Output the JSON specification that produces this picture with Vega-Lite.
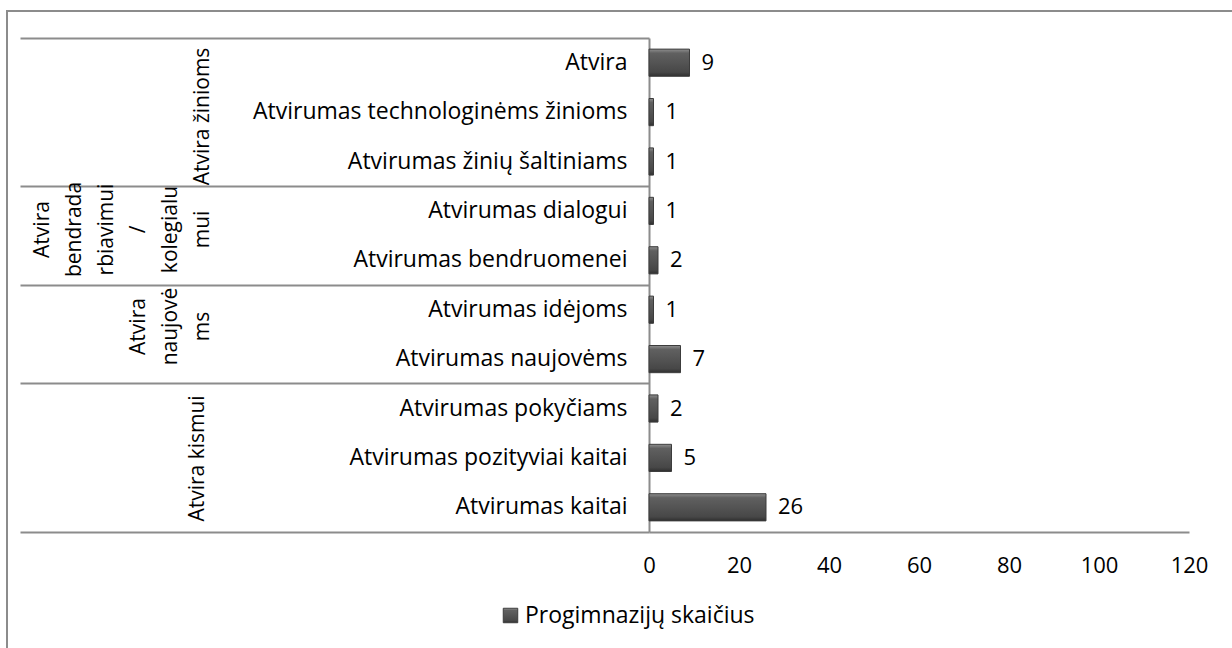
{
  "$schema": "https://vega.github.io/schema/vega-lite/v6.json",
  "width": 1228,
  "height": 640,
  "autosize": {"type": "none"},
  "padding": {"left": 7, "top": 11, "right": -3, "bottom": -3},
  "background": "white",
  "view": {"stroke": "#8c8c8c", "strokeWidth": 2},
  "config": {"font": "Open Sans"},
  "data": {
    "values": [
      {"group": "Atvira žinioms", "category": "Atvira", "value": 9},
      {"group": "Atvira žinioms", "category": "Atvirumas technologinėms žinioms", "value": 1},
      {"group": "Atvira žinioms", "category": "Atvirumas žinių šaltiniams", "value": 1},
      {"group": "Atvira bendradarbiavimui / kolegialumui", "category": "Atvirumas dialogui", "value": 1},
      {"group": "Atvira bendradarbiavimui / kolegialumui", "category": "Atvirumas bendruomenei", "value": 2},
      {"group": "Atvira naujovėms", "category": "Atvirumas idėjoms", "value": 1},
      {"group": "Atvira naujovėms", "category": "Atvirumas naujovėms", "value": 7},
      {"group": "Atvira kismui", "category": "Atvirumas pokyčiams", "value": 2},
      {"group": "Atvira kismui", "category": "Atvirumas pozityviai kaitai", "value": 5},
      {"group": "Atvira kismui", "category": "Atvirumas kaitai", "value": 26}
    ]
  },
  "encoding": {
    "x": {
      "field": "value",
      "type": "quantitative",
      "scale": {"domain": [0, 120], "range": [642, 1182], "nice": false},
      "axis": {
        "orient": "bottom",
        "offset": -119,
        "values": [0, 20, 40, 60, 80, 100, 120],
        "ticks": false,
        "grid": false,
        "domainColor": "#8c8c8c",
        "domainWidth": 2,
        "labelFont": "Open Sans",
        "labelFontSize": 22,
        "labelPadding": 23,
        "labelColor": "#000000",
        "labelFlush": false,
        "title": null
      }
    }
  },
  "resolve": {"scale": {"x": "shared", "y": "shared"}, "axis": {"y": "independent"}},
  "layer": [
    {
      "transform": [{"filter": {"field": "group", "equal": "Atvira žinioms"}}],
      "mark": {"type": "bar", "height": {"band": 0.55}, "strokeWidth": 1, "fill": {"gradient": "linear", "x1": 0, "y1": 0, "x2": 0, "y2": 1, "stops": [{"offset": 0, "color": "#8f8f8f"}, {"offset": 0.15, "color": "#606060"}, {"offset": 0.5, "color": "#545454"}, {"offset": 0.85, "color": "#474747"}, {"offset": 1, "color": "#2f2f2f"}]}},
      "encoding": {
        "y": {
          "field": "category", "type": "nominal", "sort": null,
          "scale": {"domain": ["Atvira", "Atvirumas technologinėms žinioms", "Atvirumas žinių šaltiniams", "Atvirumas dialogui", "Atvirumas bendruomenei", "Atvirumas idėjoms", "Atvirumas naujovėms", "Atvirumas pokyčiams", "Atvirumas pozityviai kaitai", "Atvirumas kaitai"], "range": [27, 521], "paddingInner": 0, "paddingOuter": 0},
          "axis": {"orient": "left", "offset": -642, "labels": false, "domain": false, "ticks": true, "values": ["Atvira"], "bandPosition": 0, "tickSize": 629, "tickColor": "#8c8c8c", "tickWidth": 2, "grid": false,
            "title": "Atvira žinioms", "titleX": -437, "titleY": 105, "titleAngle": 270, "titleAlign": "center", "titleBaseline": "bottom", "titleFont": "Open Sans", "titleFontSize": 21, "titleFontWeight": "normal", "titleLineHeight": 32, "titleColor": "#000000"}
        },
        "stroke": {
          "datum": "Progimnazijų skaičius", "type": "nominal",
          "scale": {"range": ["#3c3c3c"]},
          "legend": {"orient": "none", "legendX": 492, "legendY": 593, "title": null, "symbolType": "square", "symbolSize": 210, "symbolStrokeWidth": 1, "symbolFillColor": "#555555", "labelFont": "Open Sans", "labelFontSize": 23, "labelColor": "#000000", "labelOffset": 3, "labelLimit": 0, "padding": 0}
        }
      }
    },
    {
      "transform": [{"filter": {"field": "group", "equal": "Atvira bendradarbiavimui / kolegialumui"}}],
      "mark": {"type": "bar", "height": {"band": 0.55}, "strokeWidth": 1, "fill": {"gradient": "linear", "x1": 0, "y1": 0, "x2": 0, "y2": 1, "stops": [{"offset": 0, "color": "#8f8f8f"}, {"offset": 0.15, "color": "#606060"}, {"offset": 0.5, "color": "#545454"}, {"offset": 0.85, "color": "#474747"}, {"offset": 1, "color": "#2f2f2f"}]}},
      "encoding": {
        "y": {
          "field": "category", "type": "nominal", "sort": null,
          "axis": {"orient": "left", "offset": -642, "labels": false, "domain": false, "ticks": true, "values": ["Atvirumas dialogui"], "bandPosition": 0, "tickSize": 629, "tickColor": "#8c8c8c", "tickWidth": 2, "grid": false,
            "title": ["Atvira", "bendrada", "rbiavimui", "/", "kolegialu", "mui"], "titleX": -597, "titleY": 218, "titleAngle": 270, "titleAlign": "center", "titleBaseline": "bottom", "titleFont": "Open Sans", "titleFontSize": 21, "titleFontWeight": "normal", "titleLineHeight": 32, "titleColor": "#000000"}
        },
        "stroke": {"datum": "Progimnazijų skaičius", "type": "nominal"}
      }
    },
    {
      "transform": [{"filter": {"field": "group", "equal": "Atvira naujovėms"}}],
      "mark": {"type": "bar", "height": {"band": 0.55}, "strokeWidth": 1, "fill": {"gradient": "linear", "x1": 0, "y1": 0, "x2": 0, "y2": 1, "stops": [{"offset": 0, "color": "#8f8f8f"}, {"offset": 0.15, "color": "#606060"}, {"offset": 0.5, "color": "#545454"}, {"offset": 0.85, "color": "#474747"}, {"offset": 1, "color": "#2f2f2f"}]}},
      "encoding": {
        "y": {
          "field": "category", "type": "nominal", "sort": null,
          "axis": {"orient": "left", "offset": -642, "labels": false, "domain": false, "ticks": true, "values": ["Atvirumas idėjoms"], "bandPosition": 0, "tickSize": 629, "tickColor": "#8c8c8c", "tickWidth": 2, "grid": false,
            "title": ["Atvira", "naujovė", "ms"], "titleX": -501, "titleY": 315, "titleAngle": 270, "titleAlign": "center", "titleBaseline": "bottom", "titleFont": "Open Sans", "titleFontSize": 21, "titleFontWeight": "normal", "titleLineHeight": 32, "titleColor": "#000000"}
        },
        "stroke": {"datum": "Progimnazijų skaičius", "type": "nominal"}
      }
    },
    {
      "transform": [{"filter": {"field": "group", "equal": "Atvira kismui"}}],
      "mark": {"type": "bar", "height": {"band": 0.55}, "strokeWidth": 1, "fill": {"gradient": "linear", "x1": 0, "y1": 0, "x2": 0, "y2": 1, "stops": [{"offset": 0, "color": "#8f8f8f"}, {"offset": 0.15, "color": "#606060"}, {"offset": 0.5, "color": "#545454"}, {"offset": 0.85, "color": "#474747"}, {"offset": 1, "color": "#2f2f2f"}]}},
      "encoding": {
        "y": {
          "field": "category", "type": "nominal", "sort": null,
          "axis": {"orient": "left", "offset": -642, "labels": false, "domain": false, "ticks": true, "values": ["Atvirumas pokyčiams"], "bandPosition": 0, "tickSize": 629, "tickColor": "#8c8c8c", "tickWidth": 2, "grid": false,
            "title": "Atvira kismui", "titleX": -442, "titleY": 447, "titleAngle": 270, "titleAlign": "center", "titleBaseline": "bottom", "titleFont": "Open Sans", "titleFontSize": 21, "titleFontWeight": "normal", "titleLineHeight": 32, "titleColor": "#000000"}
        },
        "stroke": {"datum": "Progimnazijų skaičius", "type": "nominal"}
      }
    },
    {
      "transform": [{"filter": {"not": {"field": "group", "equal": "Atvira kismui"}}}],
      "mark": {"type": "text", "align": "left", "baseline": "middle", "dx": 12, "font": "Open Sans", "fontSize": 22, "color": "#000000"},
      "encoding": {
        "y": {
          "field": "category", "type": "nominal", "sort": null,
          "axis": {"orient": "left", "offset": -642, "labels": true, "ticks": false, "tickSize": 0, "domain": true, "domainColor": "#8c8c8c", "domainWidth": 2, "grid": false, "labelPadding": 22, "labelFont": "Open Sans", "labelFontSize": 23, "labelColor": "#000000", "labelLimit": 0, "title": null}
        },
        "text": {"field": "value", "type": "quantitative"}
      }
    },
    {
      "transform": [{"filter": {"field": "group", "equal": "Atvira kismui"}}],
      "mark": {"type": "text", "align": "left", "baseline": "middle", "dx": 12, "font": "Open Sans", "fontSize": 22, "color": "#000000"},
      "encoding": {
        "y": {
          "field": "category", "type": "nominal", "sort": null,
          "axis": {"orient": "left", "offset": -642, "labels": false, "domain": false, "ticks": true, "values": ["Atvirumas kaitai"], "bandPosition": 1, "tickSize": 629, "tickColor": "#8c8c8c", "tickWidth": 2, "grid": false, "title": null}
        },
        "text": {"field": "value", "type": "quantitative"}
      }
    }
  ]
}
